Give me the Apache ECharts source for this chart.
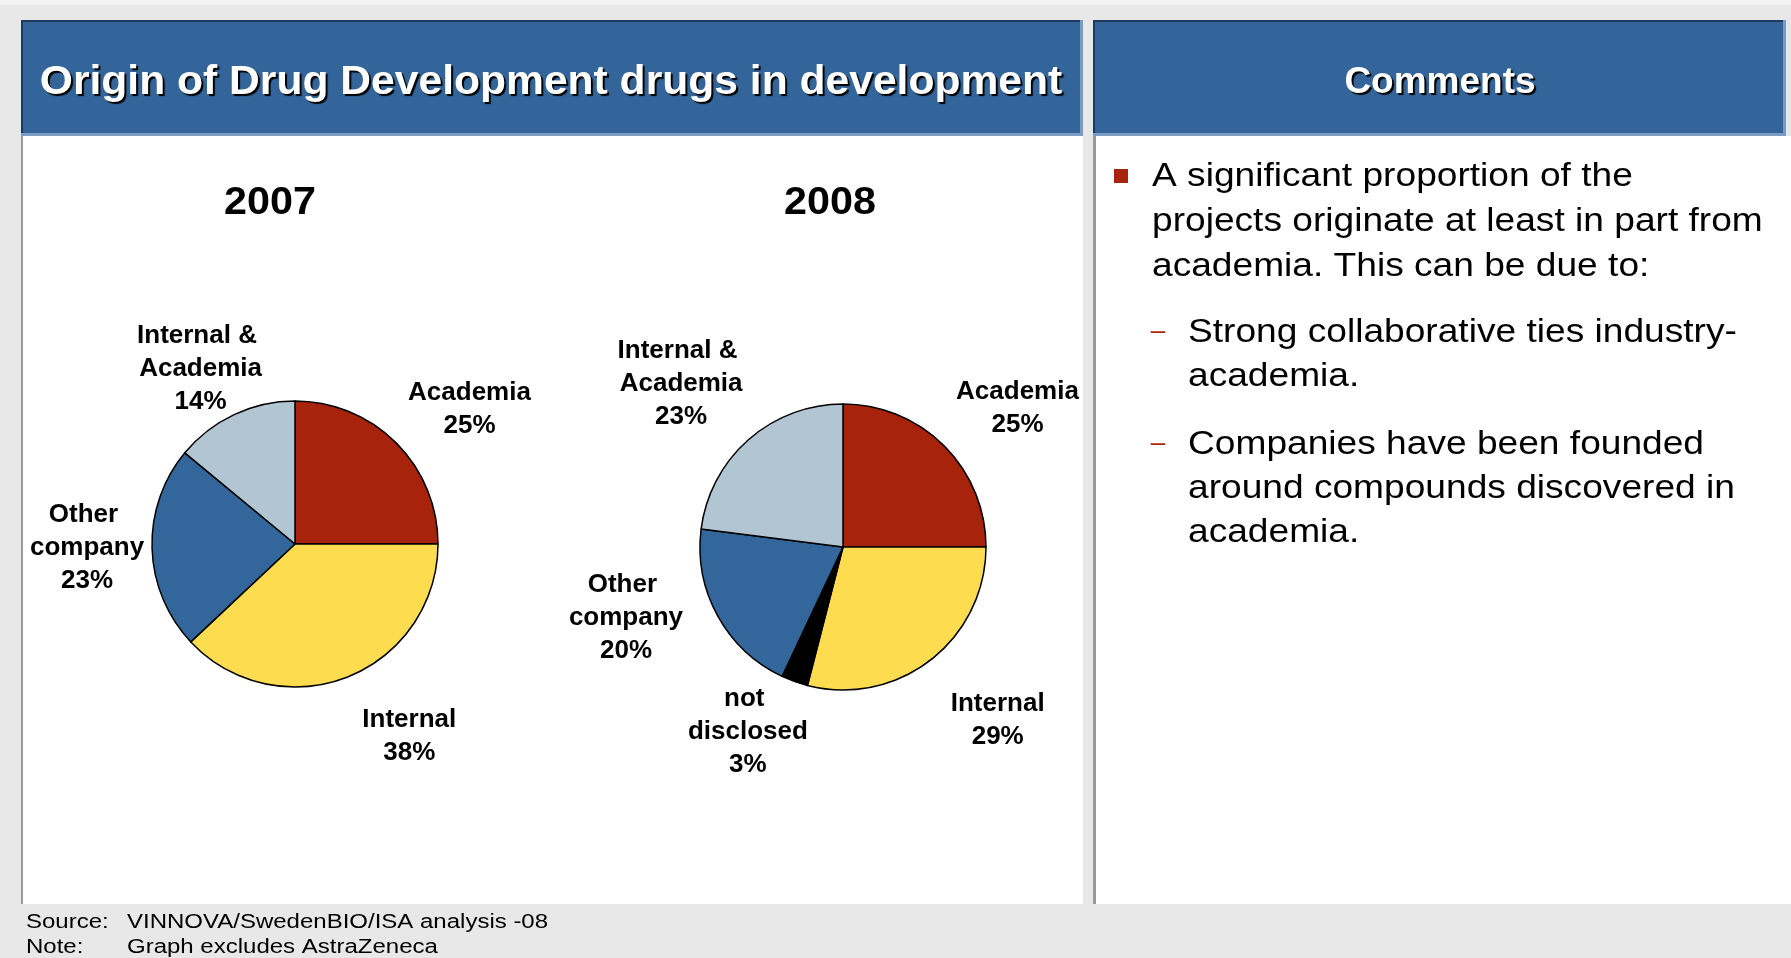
<!DOCTYPE html>
<html>
<head>
<meta charset="utf-8">
<script src="https://cdn.jsdelivr.net/npm/echarts@6/dist/echarts.min.js"></script>
<style>
html,body{margin:0;padding:0;background:#e8e8e8;}
#chart{width:1791px;height:958px;}
</style>
</head>
<body>
<div id="chart"></div>
<script>
// ---------------- DATA ----------------
const chartTitle = 'Origin of Drug Development drugs in development';
const commentsTitle = 'Comments';
const years = ['2007', '2008'];
const names2007 = ['Academia', 'Internal', 'Other company', 'Internal & Academia'];
const values2007 = [25, 38, 23, 14];
const names2008 = ['Academia', 'Internal', 'not disclosed', 'Other company', 'Internal & Academia'];
const values2008 = [25, 29, 3, 20, 23];
const commentMain = ['A significant proportion of the', 'projects originate at least in part from', 'academia. This can be due to:'];
const commentSub1 = ['Strong collaborative ties industry-', 'academia.'];
const commentSub2 = ['Companies have been founded', 'around compounds discovered in', 'academia.'];
const footLabels = ['Source:', 'Note:'];
const footTexts = ['VINNOVA/SwedenBIO/ISA analysis -08', 'Graph excludes AstraZeneca'];

// ---------------- STYLE / LAYOUT ----------------
const FONT = '"Liberation Sans", Arial, Helvetica, sans-serif';
const colorOf = {
  'Academia': '#A8230C',
  'Internal': '#FDDC50',
  'Other company': '#33669A',
  'Internal & Academia': '#B2C5D3',
  'not disclosed': '#000000'
};
const HEADER_BLUE = '#33659A';
const HEADER_DARK = '#1E3A5C';
const HEADER_LIGHT = '#7B9CC2';
const ACCENT = '#A8230C';
const PIE_R = 143;
const LABEL_R = 210;
const LABEL_DY = 2.5;
const pieCfg = [
  { names: names2007, values: values2007, center: [295, 544], titleX: 270,
    nudge: [[26, 11], [37, -5], [2, -5], [-5, 12]] },
  { names: names2008, values: values2008, center: [843, 547], titleX: 830,
    nudge: [[26, 7], [26, 5], [-24, -15], [-33, -33], [-23, -8]] }
];

function txt(x, y, text, o) {
  o = o || {};
  return {
    type: 'text', x: x, y: y, scaleX: o.scaleX || 1, silent: true, z: 10,
    style: {
      text: text,
      fontFamily: FONT,
      fontSize: o.size || 20,
      fontWeight: o.weight || 'normal',
      fill: o.color || '#000',
      align: o.align || 'left', textAlign: o.align || 'left',
      verticalAlign: 'middle', textVerticalAlign: 'middle',
      textShadowColor: o.shadow ? '#000' : 'transparent',
      textShadowOffsetX: o.shadow ? 2 : 0,
      textShadowOffsetY: o.shadow ? 2 : 0,
      textShadowBlur: o.shadow ? 1 : 0
    }
  };
}
function rect(x, y, w, h, fill) {
  return { type: 'rect', silent: true, z: 0, shape: { x: x, y: y, width: w, height: h }, style: { fill: fill } };
}
function header(x, y, w, h) {
  return [
    rect(x, y, w, h, HEADER_LIGHT),
    rect(x, y, w - 3, h - 3, HEADER_DARK),
    rect(x + 2, y + 2, w - 5, h - 5, HEADER_BLUE)
  ];
}

const graphics = [];
graphics.push(rect(0, 0, 1791, 5, '#f3f3f3'));
// left panel
graphics.push(rect(21, 136, 1062, 768, '#ffffff'));
graphics.push(rect(21, 136, 2, 768, '#9a9a9a'));
graphics.push(...header(21, 20, 1062, 116));
// right panel
graphics.push(rect(1093, 136, 698, 768, '#ffffff'));
graphics.push(rect(1093, 136, 3, 768, '#9a9a9a'));
graphics.push(...header(1093, 20, 693, 116));

graphics.push(txt(551, 83, chartTitle, { size: 40, weight: 'bold', color: '#fff', shadow: true, align: 'center', scaleX: 1.065 }));
graphics.push(txt(1440, 83, commentsTitle, { size: 37, weight: 'bold', color: '#fff', shadow: true, align: 'center' }));

years.forEach(function (yr, i) {
  graphics.push(txt(pieCfg[i].titleX, 203, yr, { size: 39, weight: 'bold', align: 'center', scaleX: 1.06 }));
});

// comments body
const BODY = { size: 33, scaleX: 1.125 };
graphics.push(rect(1114, 169, 14, 14, ACCENT));
commentMain.forEach(function (l, i) { graphics.push(txt(1152, 177 + i * 45, l, BODY)); });
commentSub1.forEach(function (l, i) { graphics.push(txt(1188, 332.5 + i * 44, l, BODY)); });
commentSub2.forEach(function (l, i) { graphics.push(txt(1188, 444.5 + i * 44, l, BODY)); });
graphics.push(txt(1158, 332, '\u2013', { size: 26, color: ACCENT, align: 'center' }));
graphics.push(txt(1158, 444, '\u2013', { size: 26, color: ACCENT, align: 'center' }));

// footer
footLabels.forEach(function (l, i) {
  graphics.push(txt(26, 922 + i * 25, l, { size: 20, scaleX: 1.2 }));
  graphics.push(txt(127, 922 + i * 25, footTexts[i], { size: 20, scaleX: 1.2 }));
});

// ---------------- SERIES ----------------
const series = pieCfg.map(function (cfg, k) {
  const total = cfg.values.reduce(function (a, b) { return a + b; }, 0);
  return {
    type: 'pie',
    name: years[k],
    center: cfg.center,
    radius: PIE_R,
    startAngle: 90,
    clockwise: true,
    avoidLabelOverlap: false,
    animation: false,
    emphasis: { disabled: true },
    itemStyle: { borderColor: '#000', borderWidth: 1.5 },
    labelLine: { show: false },
    label: {
      show: true,
      position: 'outside',
      formatter: function (p) { return p.name + '\n' + p.value + '%'; },
      fontFamily: FONT,
      fontWeight: 'bold',
      fontSize: 26,
      lineHeight: 33,
      color: '#000',
      align: 'center',
      width: 140,
      overflow: 'break'
    },
    labelLayout: function (p) {
      let cum = 0;
      for (let i = 0; i < p.dataIndex; i++) cum += cfg.values[i];
      const th = (cum + cfg.values[p.dataIndex] / 2) / total * Math.PI * 2;
      const n = cfg.nudge[p.dataIndex] || [0, 0];
      return {
        x: cfg.center[0] + Math.sin(th) * LABEL_R + n[0],
        y: cfg.center[1] - Math.cos(th) * LABEL_R + n[1] + LABEL_DY,
        align: 'center',
        verticalAlign: 'middle'
      };
    },
    data: cfg.names.map(function (nm, i) {
      return { name: nm, value: cfg.values[i], itemStyle: { color: colorOf[nm] } };
    })
  };
});

const chart = echarts.init(document.getElementById('chart'), null, { renderer: 'canvas' });
chart.setOption({
  backgroundColor: '#e8e8e8',
  animation: false,
  tooltip: { show: false },
  graphic: { elements: graphics },
  series: series
});
</script>
</body>
</html>
